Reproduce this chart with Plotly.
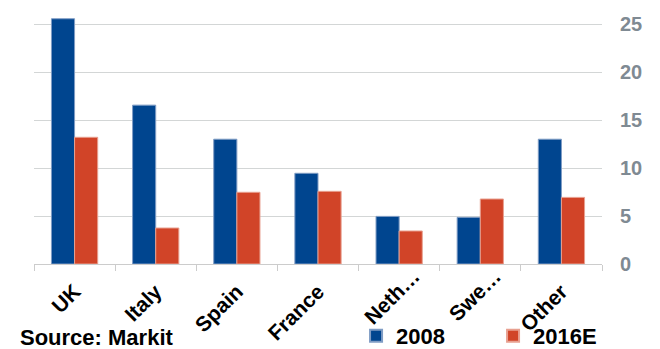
import plotly.graph_objects as go

categories = ["UK", "Italy", "Spain", "France", "Neth…", "Swe…", "Other"]
values_2008 = [25.55, 16.55, 13.0, 9.45, 4.96, 4.86, 13.0]
values_2016e = [13.2, 3.75, 7.47, 7.57, 3.44, 6.77, 6.94]
y_ticks = [0, 5, 10, 15, 20, 25]

BLUE = "#00458f"
RED = "#d14428"
FONT = "Liberation Sans, Arial, sans-serif"
LABEL_FONT = dict(family=FONT, size=21, color="black", weight="bold")

# category slots on a numeric axis
positions = list(range(len(categories)))
boundaries = [p - 0.5 for p in positions] + [positions[-1] + 0.5]
x_range = [boundaries[0], boundaries[-1]]

# truncated labels: their ellipsis overflows past the anchor (up-right along the diagonal)
full_idx = [i for i, c in enumerate(categories) if not c.endswith("…")]
trunc_idx = [i for i, c in enumerate(categories) if c.endswith("…")]
ELLIPSIS_SHIFT = 0.18

fig = go.Figure()
fig.add_trace(go.Bar(x=positions, y=values_2008, name="2008",
                     marker=dict(color=BLUE, line=dict(color="#7f9cc4", width=1))))
fig.add_trace(go.Bar(x=positions, y=values_2016e, name="2016E",
                     marker=dict(color=RED, line=dict(color="#e8a090", width=1))))
# empty helper trace so the overlay label axis is rendered
fig.add_trace(go.Scatter(x=[], y=[], xaxis="x2", yaxis="y", mode="markers",
                         showlegend=False, hoverinfo="skip"))

fig.update_layout(
    width=660, height=349,
    margin=dict(l=34, r=58, t=10, b=85, autoexpand=False),
    paper_bgcolor="white", plot_bgcolor="white",
    barmode="group", bargap=0.43, bargroupgap=0,
    font=dict(family=FONT),
    showlegend=True,
    legend=dict(orientation="h", x=0.567, xanchor="left", y=-0.283, yanchor="middle",
                font=dict(family=FONT, size=22, color="black", weight="bold"),
                entrywidth=92, itemsizing="constant", bgcolor="rgba(0,0,0,0)"),
    xaxis=dict(range=x_range, tickmode="array",
               tickvals=[positions[i] for i in full_idx],
               ticktext=[categories[i] for i in full_idx], tickangle=-45,
               automargin=False, ticks="", ticklabelstandoff=6,
               minor=dict(tickmode="array", tickvals=boundaries, ticks="outside",
                          ticklen=6, tickcolor="#cccccc", showgrid=False),
               showline=True, linecolor="#cccccc", linewidth=1,
               showgrid=False, zeroline=False, tickfont=LABEL_FONT),
    xaxis2=dict(range=x_range, overlaying="x", anchor="y", side="bottom",
                tickmode="array",
                tickvals=[positions[i] + ELLIPSIS_SHIFT for i in trunc_idx],
                ticktext=[categories[i] for i in trunc_idx], tickangle=-45,
                automargin=False, ticks="", ticklabelstandoff=-5,
                showline=False, showgrid=False, zeroline=False, tickfont=LABEL_FONT),
    yaxis=dict(side="right", range=[0, 26.46], tickvals=y_ticks, automargin=False,
               showgrid=True, gridcolor="#d3d6d6", gridwidth=1,
               zeroline=False, showline=False, ticks="", ticklabelstandoff=17,
               tickfont=dict(family=FONT, size=20, color="#7f8a93", weight="bold")),
    annotations=[dict(text="Source: Markit", xref="paper", yref="paper",
                      x=-0.028, y=-0.291, xanchor="left", yanchor="middle",
                      showarrow=False,
                      font=dict(family=FONT, size=22, color="black", weight="bold"))],
)

fig.write_html("out.html")
